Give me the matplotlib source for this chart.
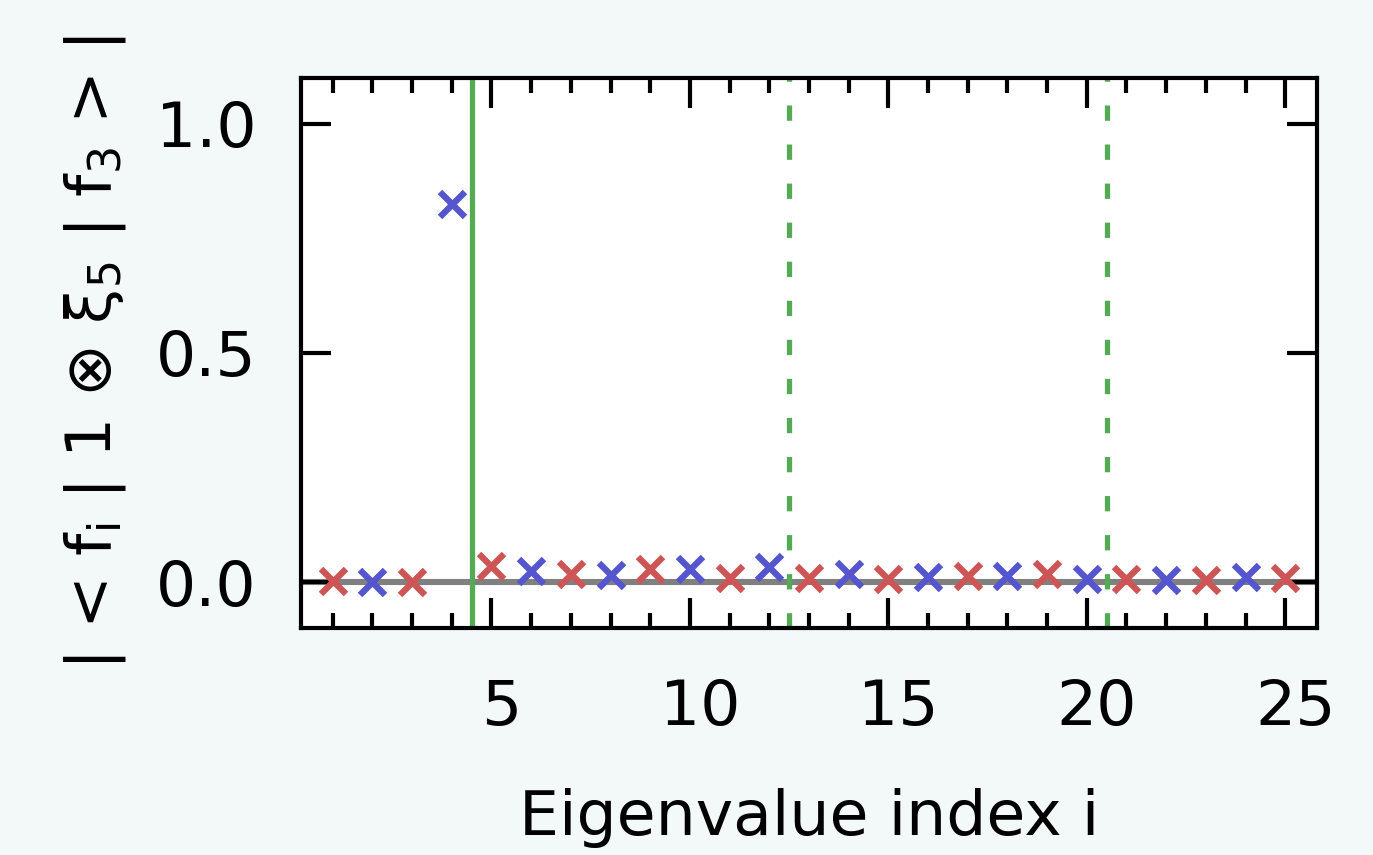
import matplotlib
matplotlib.use('Agg')
import matplotlib.pyplot as plt
import matplotlib.transforms as mtransforms
from matplotlib.ticker import MultipleLocator

# Overlap values
index = list(range(1, 26))
overlap = [0.002, 0.0, 0.0, 0.826, 0.035, 0.024, 0.017, 0.015, 0.029, 0.029,
           0.008, 0.033, 0.008, 0.018, 0.007, 0.011, 0.013, 0.013, 0.018, 0.007,
           0.007, 0.004, 0.004, 0.011, 0.010]
# odd index -> red, even index -> blue
odd_i = [i for i in index if i % 2 == 1]
odd_v = [v for i, v in zip(index, overlap) if i % 2 == 1]
even_i = [i for i in index if i % 2 == 0]
even_v = [v for i, v in zip(index, overlap) if i % 2 == 0]

# block boundaries
solid_boundary = 4.5
dashed_boundaries = [12.5, 20.5]

fs = 45.5

fig = plt.figure(figsize=(13.73, 8.55), dpi=100, facecolor='#f2f9f8')
ax = fig.add_axes([0.2192, 0.2655, 0.74, 0.6433])
ax.set_facecolor('white')

ax.axhline(0, color='#808080', lw=4.4, zorder=1)
ax.axvline(solid_boundary, color='#55aa55', lw=3.8, zorder=2)
for xb in dashed_boundaries:
    ax.axvline(xb, color='#55aa55', lw=3.8, ls=(0, (2.9, 4.5)), zorder=2)

ax.plot(odd_i, odd_v, 'x', color='#cd5555', ms=18, mew=4.6, zorder=3)
ax.plot(even_i, even_v, 'x', color='#5555cd', ms=18, mew=4.6, zorder=3)

ax.set_xlim(0.2, 25.8)
ax.set_ylim(-0.1, 1.1)
ax.xaxis.set_major_locator(MultipleLocator(5))
ax.xaxis.set_minor_locator(MultipleLocator(1))
ax.set_yticks([0.0, 0.5, 1.0])

for s in ax.spines.values():
    s.set_linewidth(3.0)

ax.tick_params(which='both', direction='in', top=True, right=True, width=3.0,
               labelsize=fs)
ax.tick_params(which='major', length=21.5)
ax.tick_params(which='minor', length=10.5)
ax.tick_params(axis='x', which='major', pad=36)
ax.tick_params(axis='y', which='major', pad=32)

# x tick labels sit a little to the right of their ticks
shift = mtransforms.ScaledTranslation(0.10, 0, fig.dpi_scale_trans)
for lab in ax.get_xticklabels():
    lab.set_transform(lab.get_transform() + shift)

ax.set_xlabel('Eigenvalue index i', fontsize=fs, labelpad=36)
ax.set_ylabel(r'| < $\mathregular{f_i}$ | 1 ⊗ $\mathregular{ξ_5}$ | $\mathregular{f_3}$ > |',
              fontsize=fs, labelpad=20)

fig.savefig('out.png', dpi=100, facecolor=fig.get_facecolor())
